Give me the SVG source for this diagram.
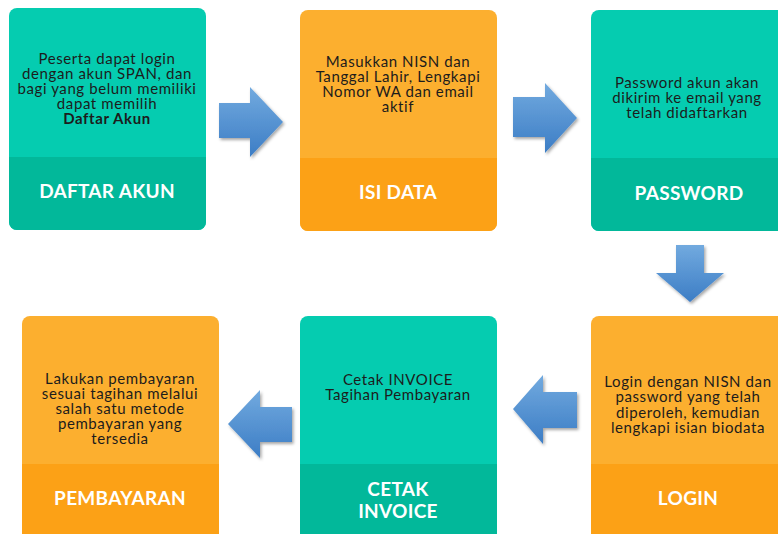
<svg xmlns="http://www.w3.org/2000/svg" width="778" height="534" viewBox="0 0 778 534">
<defs>
<linearGradient id="ag" x1="0" y1="0" x2="0" y2="1">
<stop offset="0" stop-color="#72AADF"/>
<stop offset="1" stop-color="#3C7DC5"/>
</linearGradient>
<filter id="sh" x="-20%" y="-20%" width="150%" height="150%">
<feDropShadow dx="1.5" dy="2" stdDeviation="1.5" flood-color="#000" flood-opacity="0.35"/>
</filter>
</defs>
<style>
.teal{fill:#05CCB0}
.tealb{fill:#02B89A}
.org{fill:#FCAF2F}
.orgb{fill:#FCA116}
.desc{font-family:Lato,"Open Sans",sans-serif;font-size:15px;letter-spacing:0.6px;fill:#1c1c1c;text-anchor:middle}
.lbl{font-family:Lato,"Open Sans",sans-serif;font-size:19px;font-weight:bold;letter-spacing:0.3px;fill:#ffffff;text-anchor:middle}
.arr{fill:url(#ag);filter:url(#sh)}
</style>
<rect width="778" height="534" fill="#ffffff"/>

<g id="daftar-akun">
<rect class="teal" x="9" y="8" width="197" height="222" rx="8"/>
<path class="tealb" d="M9,157 H206 V222 A8,8 0 0 1 198,230 H17 A8,8 0 0 1 9,222 Z"/>
<text class="desc" x="107" y="64">Peserta dapat login</text>
<text class="desc" x="107" y="79">dengan akun SPAN, dan</text>
<text class="desc" x="107" y="94">bagi yang belum memiliki</text>
<text class="desc" x="107" y="109">dapat memilih</text>
<text class="desc" x="107" y="124" font-weight="bold" fill="#000">Daftar Akun</text>
<text class="lbl" x="107" y="198">DAFTAR AKUN</text>
</g>

<g id="isi-data">
<rect class="org" x="300" y="10" width="197" height="221" rx="8"/>
<path class="orgb" d="M300,158 H497 V223 A8,8 0 0 1 489,231 H308 A8,8 0 0 1 300,223 Z"/>
<text class="desc" x="398" y="67">Masukkan NISN dan</text>
<text class="desc" x="398" y="82">Tanggal Lahir, Lengkapi</text>
<text class="desc" x="398" y="97">Nomor WA dan email</text>
<text class="desc" x="398" y="112">aktif</text>
<text class="lbl" x="398" y="199">ISI DATA</text>
</g>

<g id="password">
<rect class="teal" x="591" y="10" width="198" height="221" rx="8"/>
<path class="tealb" d="M591,158 H789 V223 A8,8 0 0 1 781,231 H599 A8,8 0 0 1 591,223 Z"/>
<text class="desc" x="687" y="88">Password akun akan</text>
<text class="desc" x="687" y="103">dikirim ke email yang</text>
<text class="desc" x="687" y="118">telah didaftarkan</text>
<text class="lbl" x="689" y="200">PASSWORD</text>
</g>

<g id="login">
<rect class="org" x="591" y="316" width="198" height="230" rx="8"/>
<rect class="orgb" x="591" y="464" width="198" height="82"/>
<text class="desc" x="688" y="387">Login dengan NISN dan</text>
<text class="desc" x="688" y="402">password yang telah</text>
<text class="desc" x="688" y="418">diperoleh, kemudian</text>
<text class="desc" x="688" y="433">lengkapi isian biodata</text>
<text class="lbl" x="688" y="505">LOGIN</text>
</g>

<g id="cetak-invoice">
<rect class="teal" x="300" y="316" width="197" height="230" rx="8"/>
<rect class="tealb" x="300" y="464" width="197" height="82"/>
<text class="desc" x="398" y="385">Cetak INVOICE</text>
<text class="desc" x="398" y="400">Tagihan Pembayaran</text>
<text class="lbl" x="398" y="496">CETAK</text>
<text class="lbl" x="398" y="518">INVOICE</text>
</g>

<g id="pembayaran">
<rect class="org" x="22" y="316" width="197" height="230" rx="8"/>
<rect class="orgb" x="22" y="464" width="197" height="82"/>
<text class="desc" x="120" y="384">Lakukan pembayaran</text>
<text class="desc" x="120" y="399">sesuai tagihan melalui</text>
<text class="desc" x="120" y="414">salah satu metode</text>
<text class="desc" x="120" y="429">pembayaran yang</text>
<text class="desc" x="120" y="444">tersedia</text>
<text class="lbl" x="120" y="505">PEMBAYARAN</text>
</g>

<g id="connectors">
<polygon class="arr" points="219,103 250,103 250,87 283,122 250,157 250,138 219,138"/>
<polygon class="arr" points="513,97 545,97 545,83 577,118 545,153 545,137 513,137"/>
<polygon class="arr" points="676,245 704,245 704,273 724,273 690,302 656,273 676,273"/>
<polygon class="arr" points="577,392 543,392 543,375 513,409 543,444 543,428 577,428"/>
<polygon class="arr" points="292,407 260,407 260,390 228,424 260,458 260,442 292,442"/>
</g>
</svg>
